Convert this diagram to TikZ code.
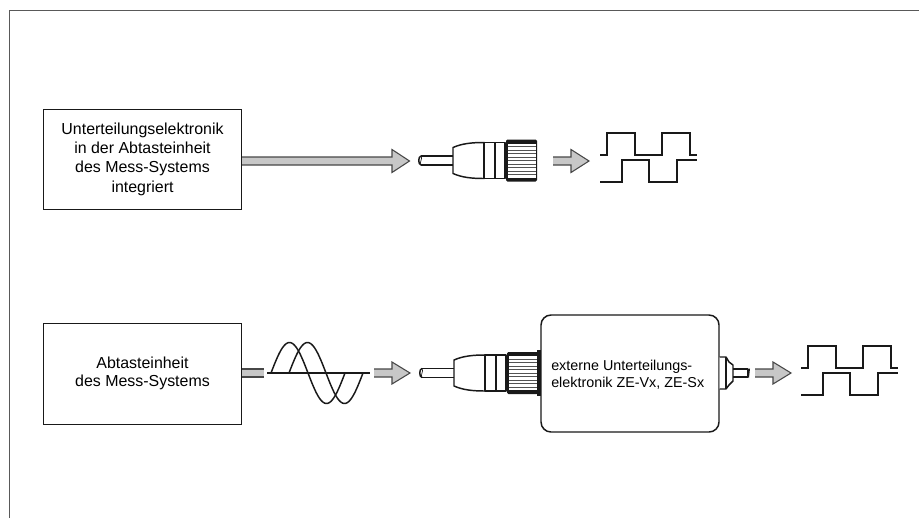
\documentclass[tikz,border=0pt]{standalone}
\usepackage{fontspec}
\setmainfont{Liberation Sans}
\definecolor{framegray}{gray}{0.35}
\definecolor{arrowfill}{gray}{0.78}
\definecolor{ink}{gray}{0.1}
\tikzset{
  px/.style={x=0.75pt,y=-0.75pt},
  box/.style={draw=ink,line width=0.75pt,fill=white,inner sep=0pt,minimum width=149pt,font=\fontsize{11.95pt}{14.5pt}\selectfont,align=center},
  wire/.style={draw=ink,line width=1.1pt,line join=round},
  thin wire/.style={draw=ink,line width=0.8pt},
  block arrow/.style={draw=ink!80,line width=0.8pt,fill=arrowfill,line join=miter},
}
% block arrow: start x, head base x, tip x, centre y, half-height of head
\newcommand{\blockarrow}[5]{%
  \fill[arrowfill] (#1,#4-4) rectangle (#2,#4+4);
  \draw[block arrow] (#1,#4-4) -- (#2,#4-4) -- (#2,#4-#5) -- (#3,#4) -- (#2,#4+#5) -- (#2,#4+4) -- (#1,#4+4);
}
% connector: x origin at cable start, y centre
\newcommand{\plugdraw}[2]{%
  \begin{scope}[shift={(#1,#2)}]
    \draw[wire] (3,-4.5) .. controls (0,-4.5) and (0,4.5) .. (3,4.5);
    \draw[wire,line width=0.5pt] (3,-4.5) .. controls (5,-2) and (1,2) .. (3,4.5);
    \draw[wire] (3,-4.5) -- (35,-4.5) (3,4.5) -- (35,4.5);
    \draw[wire,fill=white] (35,-13) .. controls (44,-17) and (54,-18) .. (66,-18) -- (66,18) .. controls (54,18) and (44,17) .. (35,13) -- cycle;
    \draw[wire,fill=white] (66,-18) rectangle (77,18);
    \draw[wire,fill=white] (77,-18) rectangle (87,18);
    \fill[ink,rounded corners=1pt] (88,-21) rectangle (119,21);
    \fill[white] (89.5,-17) rectangle (117.5,17);
    \foreach \yy in {-14,-10.5,...,14.5} {\draw[ink!75,line width=0.7pt] (89.5,\yy) -- (117.5,\yy);}
  \end{scope}
}
% square-wave pair: x origin, y of upper high level
\newcommand{\wavepair}[2]{%
  \begin{scope}[shift={(#1,#2)}]
    \draw[wire,line join=miter] (0,22) -- (7,22) -- (7,0) -- (35,0) -- (35,22) -- (62,22) -- (62,0) -- (90,0) -- (90,22) -- (97,22);
    \draw[wire,line join=miter] (0,49) -- (22,49) -- (22,27) -- (49,27) -- (49,49) -- (77,49) -- (77,27) -- (97,27);
  \end{scope}
}
\begin{document}
\begin{tikzpicture}[px]
\useasboundingbox (0,0) rectangle (920,518);
\fill[white] (0,0) rectangle (920,518);
\draw[framegray,line width=0.9pt] (9.5,518) -- (9.5,10.5) -- (919,10.5);

% upper row
\node[box,minimum height=75pt] (upper) at (142.5,159) {Unterteilungselektronik\\in der Abtasteinheit\\des Mess-Systems\\integriert};
\blockarrow{242}{392}{409.5}{161}{11.5}
\plugdraw{418}{160.5}
\blockarrow{553}{571}{589}{161}{11.5}
\wavepair{600}{133}

% lower row
\node[box,minimum height=75.75pt,font=\fontsize{11.95pt}{13.5pt}\selectfont] (lower) at (142.5,373.5) {Abtasteinheit\\des Mess-Systems};
\fill[arrowfill] (242,369) rectangle (264,377);
\draw[block arrow] (242,369) -- (264,369) (242,377) -- (264,377);
\draw[thin wire] (267,373) -- (370,373);
\draw[wire,smooth,samples=70,domain=0:74] plot ({271+\x},{373-30.5*sin(\x*4.865)});
\draw[wire,smooth,samples=70,domain=0:74] plot ({289+\x},{373-30.5*sin(\x*4.865)});
\blockarrow{374}{392}{410}{373}{11}
\plugdraw{419}{373}
\fill[ink] (537,350) rectangle (541,396);
\node[draw=ink,line width=1.1pt,fill=white,rounded corners=7.5pt,minimum width=133.5pt,minimum height=87.75pt,inner sep=0pt] (zone) at (630,373.5) {};
\node[font=\fontsize{10.75pt}{12.75pt}\selectfont,align=left,anchor=west,inner sep=0pt] (zonetext) at (551,374.5) {externe Unterteilungs-\\elektronik ZE-Vx, ZE-Sx};
% output plug
\draw[wire,fill=white] (zone.east |- 0,357) -- (726,357) -- (729,362) -- (733,365) -- (733,381) -- (729,385) -- (726,389) -- (zone.east |- 0,389);
\draw[wire] (726,357) -- (726,389);
\draw[wire,fill=white] (733,369) -- (748,369) (733,377) -- (748,377);
\fill[ink] (747,368.5) -- (750,368.5) -- (749,377.5) -- (747,377.5) -- cycle;
\blockarrow{755}{773}{791}{373}{11}
\wavepair{801}{346}
\end{tikzpicture}
\end{document}
